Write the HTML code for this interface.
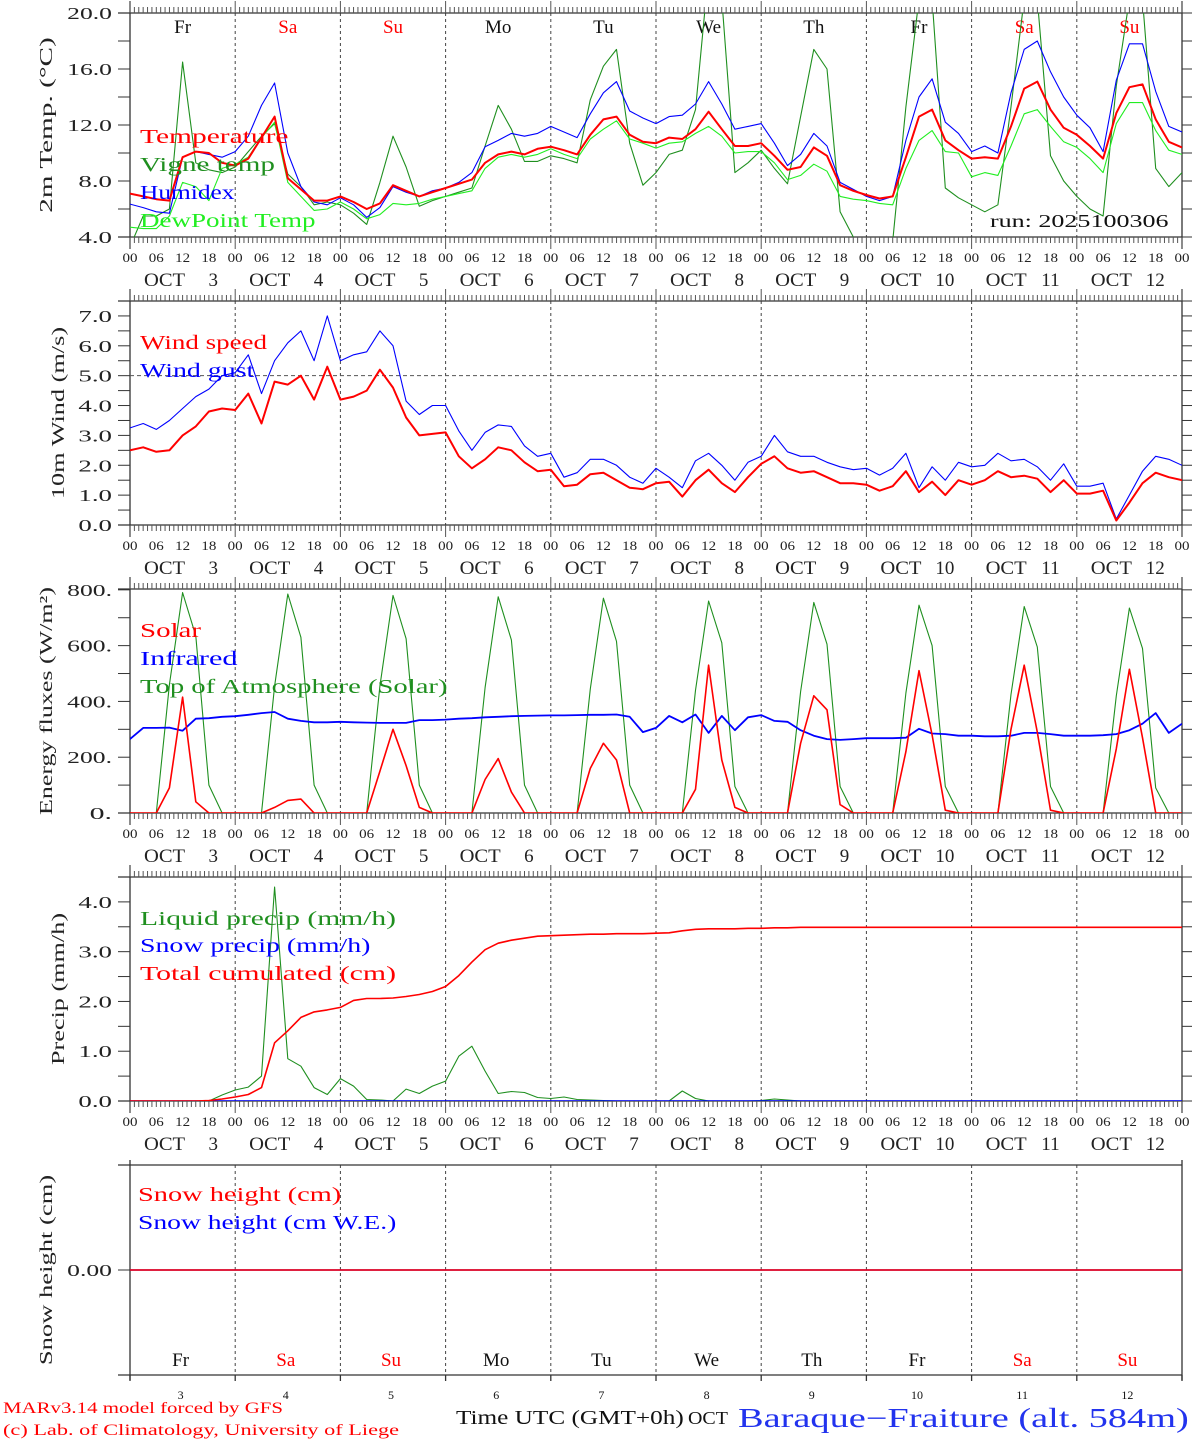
<!DOCTYPE html>
<html><head><meta charset="utf-8"><title>MAR meteogram</title>
<style>
html,body{margin:0;padding:0;background:#fff;}
svg{display:block;font-family:"Liberation Serif",serif;}
</style></head>
<body>
<svg id="chart" xmlns="http://www.w3.org/2000/svg" width="1194" height="1440" viewBox="0 0 1194 1440"></svg>
<script>
// ---------- DATA (3-hourly, Oct 3 00h .. Oct 13 00h) ----------
const days = ["3","4","5","6","7","8","9","10","11","12"];
const dayNames = ["Fr","Sa","Su","Mo","Tu","We","Th","Fr","Sa","Su"];
const weekend = [false,true,true,false,false,false,false,false,true,true];
const hourLabels = ["00","06","12","18"];

const temperature = [7.1,6.9,6.7,6.6,9.7,10.1,10.0,9.3, 9.1,9.6,11.1,12.6,8.2,7.4,6.6,6.6, 6.9,6.5,6.0,6.4,7.7,7.3,6.9,7.2, 7.5,7.8,8.1,9.3,9.9,10.1,9.9,10.3, 10.45,10.2,9.9,11.3,12.4,12.6,11.3,10.8, 10.7,11.1,11.0,11.7,12.95,11.7,10.5,10.5, 10.7,9.8,8.8,9.0,10.4,9.8,7.7,7.3, 7.0,6.75,6.9,9.7,12.6,13.1,10.9,10.2, 9.6,9.7,9.6,11.9,14.6,15.1,13.1,11.8, 11.3,10.5,9.6,12.85,14.7,14.9,12.4,10.8, 10.4];
const vigneTemp = [3.3,5.5,5.5,6.0,16.5,9.3,8.8,8.6, 9.0,10.1,11.2,12.1,8.5,7.6,6.3,6.5, 6.3,5.7,4.9,7.9,11.2,9.0,6.2,6.6, 6.9,7.2,7.5,10.5,13.4,11.7,9.4,9.4, 9.8,9.6,9.3,13.8,16.2,17.4,10.7,7.7, 8.6,9.9,10.2,13.1,23,21,8.6,9.3, 10.2,8.9,7.8,12.6,17.4,16.0,5.8,4.0, 3.5,3.0,3.7,13.3,21,21,7.5,6.8, 6.3,5.8,6.3,13.3,21,21,9.8,8.0, 6.9,6.0,5.5,14.8,21,21,8.9,7.6, 8.6];
const humidex = [6.35,6.1,5.8,5.7,9.7,10.1,9.9,9.7, 10.1,11.2,13.4,15.0,10.0,7.6,6.5,6.3, 6.8,6.3,5.4,6.1,7.6,7.2,6.9,7.3, 7.5,7.9,8.6,10.45,10.9,11.4,11.2,11.4, 11.9,11.5,11.1,12.8,14.3,15.1,13.0,12.5, 12.1,12.6,12.7,13.5,15.1,13.5,11.7,11.9, 12.1,10.7,9.1,9.9,11.4,10.5,7.9,7.4, 6.9,6.6,6.9,10.9,14.0,15.3,12.2,11.4, 10.1,10.5,10.0,14.3,17.4,18.0,15.8,14.0, 12.7,11.8,10.1,15.2,17.8,17.8,14.4,11.9, 11.5];
const dewPoint = [4.7,4.6,4.6,5.5,7.9,7.6,6.6,8.9, 9.2,9.7,11.1,12.2,7.9,6.9,5.9,6.0, 6.5,6.0,5.3,5.6,6.4,6.3,6.4,6.7, 6.9,7.1,7.3,8.9,9.7,9.9,9.7,9.9, 10.3,9.9,9.6,11.0,11.7,12.3,11.0,10.7, 10.35,10.7,10.8,11.4,11.9,11.2,10.0,10.1, 10.1,9.3,8.1,8.4,9.2,8.7,6.9,6.7, 6.6,6.4,6.3,8.9,10.9,11.6,10.1,10.0, 8.3,8.6,8.4,10.5,12.8,13.1,11.9,10.8, 10.4,9.6,8.6,12.1,13.6,13.6,11.6,10.2, 9.9];

const windSpeed = [2.5,2.6,2.45,2.5,3.0,3.3,3.8,3.9, 3.85,4.4,3.4,4.8,4.7,5.0,4.2,5.3, 4.2,4.3,4.5,5.2,4.6,3.6,3.0,3.05, 3.1,2.3,1.9,2.2,2.6,2.5,2.1,1.8, 1.85,1.3,1.35,1.7,1.75,1.5,1.25,1.2, 1.4,1.45,0.95,1.5,1.85,1.4,1.1,1.6, 2.05,2.3,1.9,1.75,1.8,1.6,1.4,1.4, 1.35,1.15,1.3,1.8,1.1,1.45,1.0,1.5, 1.35,1.5,1.8,1.6,1.65,1.55,1.1,1.5, 1.05,1.05,1.15,0.15,0.75,1.4,1.75,1.6, 1.5];
const windGust = [3.25,3.4,3.2,3.5,3.9,4.3,4.55,5.0, 5.1,5.7,4.4,5.5,6.1,6.5,5.5,7.0, 5.5,5.7,5.8,6.5,6.0,4.15,3.7,4.0, 4.0,3.15,2.5,3.1,3.35,3.3,2.65,2.3, 2.4,1.6,1.75,2.2,2.2,2.0,1.6,1.4, 1.9,1.6,1.25,2.15,2.4,2.0,1.5,2.1, 2.3,3.0,2.45,2.3,2.3,2.1,1.95,1.85, 1.9,1.67,1.9,2.4,1.25,1.95,1.5,2.1, 1.95,2.0,2.4,2.15,2.2,1.95,1.5,2.05, 1.3,1.3,1.4,0.2,1.0,1.8,2.3,2.2, 2.0];

const solar = [0,0,0,90,415,40,0,0, 0,0,0,20,45,50,0,0, 0,0,0,150,300,170,20,0, 0,0,0,120,195,75,0,0, 0,0,0,160,250,190,0,0, 0,0,0,85,530,190,20,0, 0,0,0,250,420,370,30,0, 0,0,0,220,510,280,10,0, 0,0,0,300,530,290,10,0, 0,0,0,230,515,270,0,0, 0];
const infrared = [265,305,305,306,295,338,340,345, 347,352,358,362,338,330,325,325, 327,325,324,323,323,323,333,333, 335,338,340,343,345,347,348,349, 350,350,351,352,352,353,345,290, 305,348,325,353,287,348,297,343, 351,330,327,297,277,265,262,265, 268,268,268,270,302,285,283,277, 277,275,275,277,287,287,283,277, 277,277,279,283,297,320,358,287, 320];
const toaSolar = [0,0,0,460,790,635,100,0, 0,0,0,455,785,630,100,0, 0,0,0,455,780,625,100,0, 0,0,0,450,775,620,100,0, 0,0,0,445,770,615,100,0, 0,0,0,440,760,610,95,0, 0,0,0,435,755,605,95,0, 0,0,0,430,745,600,95,0, 0,0,0,425,740,595,95,0, 0,0,0,420,735,590,90,0, 0];

const liquidPrecip = [0,0,0,0,0,0,0,0.12, 0.22,0.28,0.5,4.3,0.85,0.7,0.27,0.13, 0.45,0.3,0.03,0.02,0,0.24,0.15,0.3, 0.4,0.9,1.1,0.6,0.15,0.19,0.17,0.07, 0.05,0.08,0.03,0.02,0.01,0,0,0, 0,0,0.2,0.05,0,0,0,0, 0.01,0.04,0.02,0,0,0,0,0, 0,0,0,0,0,0,0,0, 0,0,0,0,0,0,0,0, 0,0,0,0,0,0,0,0, 0];
const snowPrecip = [0,0,0,0,0,0,0,0,0,0,0];
const totalCumulated = [0,0,0,0,0,0,0.01,0.04, 0.08,0.13,0.27,1.17,1.41,1.68,1.79,1.83, 1.88,2.02,2.06,2.06,2.07,2.1,2.14,2.2, 2.3,2.52,2.79,3.04,3.17,3.23,3.27,3.31, 3.32,3.33,3.34,3.35,3.35,3.36,3.36,3.36, 3.37,3.38,3.42,3.45,3.46,3.46,3.46,3.47, 3.47,3.48,3.48,3.49,3.49,3.49,3.49,3.49, 3.49,3.49,3.49,3.49,3.49,3.49,3.49,3.49, 3.49,3.49,3.49,3.49,3.49,3.49,3.49,3.49, 3.49,3.49,3.49,3.49,3.49,3.49,3.49,3.49, 3.49];

const snowHeight = [0,0,0,0,0,0,0,0,0,0,0];
const snowHeightWE = [0,0,0,0,0,0,0,0,0,0,0];

const p1Ticks = [4,6,8,10,12,14,16,18,20];
const p1Labels = ["4.0","8.0","12.0","16.0","20.0"];
const p1LabelVals = [4,8,12,16,20];
const p2Ticks = [0,0.5,1,1.5,2,2.5,3,3.5,4,4.5,5,5.5,6,6.5,7,7.5];
const p2Labels = ["0.0","1.0","2.0","3.0","4.0","5.0","6.0","7.0"];
const p2LabelVals = [0,1,2,3,4,5,6,7];
const p3Ticks = [0,100,200,300,400,500,600,700,800];
const p3Labels = ["0.","200.","400.","600.","800."];
const p3LabelVals = [0,200,400,600,800];
const p4Ticks = [0,0.5,1,1.5,2,2.5,3,3.5,4,4.5];
const p4Labels = ["0.0","1.0","2.0","3.0","4.0"];
const p4LabelVals = [0,1,2,3,4];

// ---------- RENDER ----------
const NS = "http://www.w3.org/2000/svg";
const svg = document.getElementById("chart");
const X0 = 130, X1 = 1182, HOURS = 240;
function xs(h){ return X0 + (X1 - X0) * h / HOURS; }
function ys(p, v){ return p.bottom - (v - p.min) / (p.max - p.min) * (p.bottom - p.top); }
function mk(tag, name, parent){
  const el = document.createElementNS(NS, tag);
  
  
  (parent || svg).appendChild(el);
  return el;
}
function ln(x1,y1,x2,y2,stroke,w,name,dash){
  const l = mk('line', name);
  l.setAttribute('x1',x1); l.setAttribute('y1',y1); l.setAttribute('x2',x2); l.setAttribute('y2',y2);
  l.setAttribute('stroke',stroke); l.setAttribute('stroke-width',w);
  if(dash) l.setAttribute('stroke-dasharray',dash);
  return l;
}
function txt(x,y,s,size,color,anchor,cw,name,rot){
  const t = mk('text', name);
  t.setAttribute('x',x); t.setAttribute('y',y);
  t.setAttribute('font-size',size); t.setAttribute('fill',color);
  t.setAttribute('text-anchor',anchor||'start');
  if(cw){ t.setAttribute('textLength', (s.length*cw).toFixed(1)); t.setAttribute('lengthAdjust','spacingAndGlyphs'); }
  if(rot) t.setAttribute('transform','rotate(-90 '+x+' '+y+')');
  t.textContent = s;
  return t;
}

const panels = [
  {id:'temp', top:13, bottom:237, min:4, max:20, ticks:p1Ticks, labels:p1Labels, labelVals:p1LabelVals, title:"2m Temp. (\u00B0C)", tx:46, tcw:13.5, hourTicks:true},
  {id:'wind', top:301, bottom:525, min:0, max:7.5, ticks:p2Ticks, labels:p2Labels, labelVals:p2LabelVals, title:"10m Wind (m/s)", tx:58, tcw:12.3, hourTicks:true},
  {id:'energy', top:589, bottom:813, min:0, max:803, ticks:p3Ticks, labels:p3Labels, labelVals:p3LabelVals, title:"Energy fluxes (W/m\u00B2)", tx:46, tcw:11.4, hourTicks:true},
  {id:'precip', top:877, bottom:1101, min:0, max:4.5, ticks:p4Ticks, labels:p4Labels, labelVals:p4LabelVals, title:"Precip (mm/h)", tx:58, tcw:11.7, hourTicks:true},
  {id:'snow', top:1165, bottom:1375, min:-1, max:1, ticks:[0], labels:["0.00"], labelVals:[0], title:"Snow height (cm)", tx:46, tcw:11.9, hourTicks:false}
];

const defs = mk('defs','clip-defs');
panels.forEach(p=>{
  const cp = mk('clipPath','clip-'+p.id, defs);
  cp.setAttribute('id','clip-'+p.id);
  const r = mk('rect','clip-rect', cp);
  r.setAttribute('x',X0); r.setAttribute('y',p.top); r.setAttribute('width',X1-X0); r.setAttribute('height',p.bottom-p.top);
});

panels.forEach(p=>{
  for(let d=1; d<10; d++){
    ln(xs(d*24),p.top,xs(d*24),p.bottom,'#444',1,'day-divider',"3,3");
  }
  ln(X0-12,p.top,X1,p.top,'#333',1.3,'frame-top');
  ln(X0-12,p.bottom,X1,p.bottom,'#333',1.3,'frame-bottom');
  ln(X0,p.top-(p.hourTicks?12:5),X0,p.bottom+(p.hourTicks?12:5),'#333',1.3,'y-axis-left');
  ln(X1,p.top-(p.hourTicks?12:5),X1,p.bottom+(p.hourTicks?12:5),'#333',1.3,'y-axis-right');
  if(p.hourTicks){
    for(let h=0; h<=HOURS; h++){
      const x = xs(h);
      const big = (h%24===0);
      ln(x,p.top-(big?12:6),x,p.top,'#555',1,'hour-tick-top');
      ln(x,p.bottom,x,p.bottom+(big?12:6),'#555',1,'hour-tick-bottom');
    }
  } else {
    for(let d=0; d<=10; d++){
      ln(xs(d*24),p.bottom,xs(d*24),p.bottom+6,'#333',1.3,'day-tick-bottom');
    }
  }
  p.ticks.forEach(v=>{
    const y = ys(p,v);
    ln(X0-12,y,X0,y,'#333',1,'y-tick-left');
    if(p.id!=='snow') ln(X1,y,X1+10,y,'#333',1,'y-tick-right');
  });
  p.labelVals.forEach((v,i)=>{
    txt(112,ys(p,v)+6,p.labels[i],17,'#222','end',11.2,'y-tick-label');
  });
  const tcy = (p.top+p.bottom)/2;
  txt(p.tx+6,tcy,p.title,18,'#222','middle',p.tcw,'y-axis-title',true);
  if(p.hourTicks){
    for(let d=0; d<10; d++){
      hourLabels.forEach((hl,k)=>{
        txt(xs(d*24+k*6),p.bottom+25,hl,13,'#222','middle',7.5,'x-hour-label');
      });
      const ds = xs(d*24);
      txt(ds+14,p.bottom+49,"OCT",19,'#222','start',13.7,'x-month-label');
      txt(ds+88,p.bottom+49,days[d],19,'#222','end',null,'x-day-label');
    }
    txt(X1,p.bottom+25,"00",13,'#222','middle',7.5,'x-hour-label');
  }
});

for(let d=0; d<10; d++){
  txt(xs(d*24+12),33,dayNames[d],19,weekend[d]?'#ff0000':'#111','middle',null,'weekday-label');
}
for(let d=0; d<10; d++){
  txt(xs(d*24+12)-2,1366,dayNames[d],19,weekend[d]?'#ff0000':'#111','middle',null,'weekday-label');
  txt(xs(d*24+12)-2,1399,days[d],12,'#111','middle',null,'day-number-label');
}
ln(X0,ys(panels[1],5),X1,ys(panels[1],5),'#555',1,'wind-5ms-reference',"4,3");

function series(p,arr,step,color,w,name){
  const pl = mk('polyline',name);
  pl.setAttribute('points', arr.map((v,i)=>xs(i*step).toFixed(1)+','+ys(p,v).toFixed(1)).join(' '));
  pl.setAttribute('fill','none'); pl.setAttribute('stroke',color); pl.setAttribute('stroke-width',w);
  pl.setAttribute('stroke-linejoin','round');
  pl.setAttribute('clip-path','url(#clip-'+p.id+')');
  return pl;
}
const GREEN='#1f8f1f', LIME='#22ee22', RED='#ff0000', BLUE='#0000ff';
series(panels[0],vigneTemp,3,GREEN,1.1,'vigne-temp-line');
series(panels[0],dewPoint,3,LIME,1.1,'dewpoint-line');
series(panels[0],humidex,3,BLUE,1.1,'humidex-line');
series(panels[0],temperature,3,RED,2,'temperature-line');
series(panels[1],windGust,3,BLUE,1.1,'wind-gust-line');
series(panels[1],windSpeed,3,RED,2,'wind-speed-line');
series(panels[2],toaSolar,3,GREEN,1.1,'toa-solar-line');
series(panels[2],infrared,3,BLUE,1.8,'infrared-line');
series(panels[2],solar,3,RED,1.6,'solar-line');
series(panels[3],liquidPrecip,3,GREEN,1.1,'liquid-precip-line');
series(panels[3],snowPrecip,24,BLUE,1.5,'snow-precip-line');
series(panels[3],totalCumulated,3,RED,1.6,'total-cumulated-line');
series(panels[4],snowHeightWE,24,BLUE,1.5,'snow-height-we-line');
series(panels[4],snowHeight,24,RED,1.5,'snow-height-line');

txt(140,143,"Temperature",20,RED,'start',13.5,'legend-temperature');
txt(140,171,"Vigne temp",20,GREEN,'start',13.5,'legend-vigne-temp');
txt(140,199,"Humidex",20,BLUE,'start',13.5,'legend-humidex');
txt(140,227,"DewPoint Temp",20,LIME,'start',13.5,'legend-dewpoint');
txt(990,227,"run: 2025100306",18,'#111','start',11.9,'run-label');
txt(140,349,"Wind speed",20,RED,'start',12.7,'legend-wind-speed');
txt(140,377,"Wind gust",20,BLUE,'start',12.7,'legend-wind-gust');
txt(140,637,"Solar",20,RED,'start',12.2,'legend-solar');
txt(140,665,"Infrared",20,BLUE,'start',12.2,'legend-infrared');
txt(140,693,"Top of Atmosphere (Solar)",20,GREEN,'start',12.3,'legend-toa');
txt(140,925,"Liquid precip (mm/h)",20,GREEN,'start',12.8,'legend-liquid-precip');
txt(140,952,"Snow precip (mm/h)",20,BLUE,'start',12.8,'legend-snow-precip');
txt(140,980,"Total cumulated (cm)",20,RED,'start',12.8,'legend-total-cumulated');
txt(138,1201,"Snow height (cm)",20,RED,'start',12.7,'legend-snow-height');
txt(138,1229,"Snow height (cm W.E.)",20,BLUE,'start',12.3,'legend-snow-height-we');

txt(3,1413,"MARv3.14 model forced by GFS",16,RED,'start',10,'model-credit');
txt(3,1435,"(c) Lab. of Climatology, University of Liege",16,RED,'start',9,'lab-credit');
txt(456,1424,"Time UTC (GMT+0h)",20,'#111','start',13.4,'x-axis-title');
txt(688,1424,"OCT",18,'#111','start',13.3,'x-axis-month');
txt(738,1427,"Baraque\u2212Fraiture (alt. 584m)",27,'#2233ee','start',16.1,'station-title');
</script>
</body></html>
